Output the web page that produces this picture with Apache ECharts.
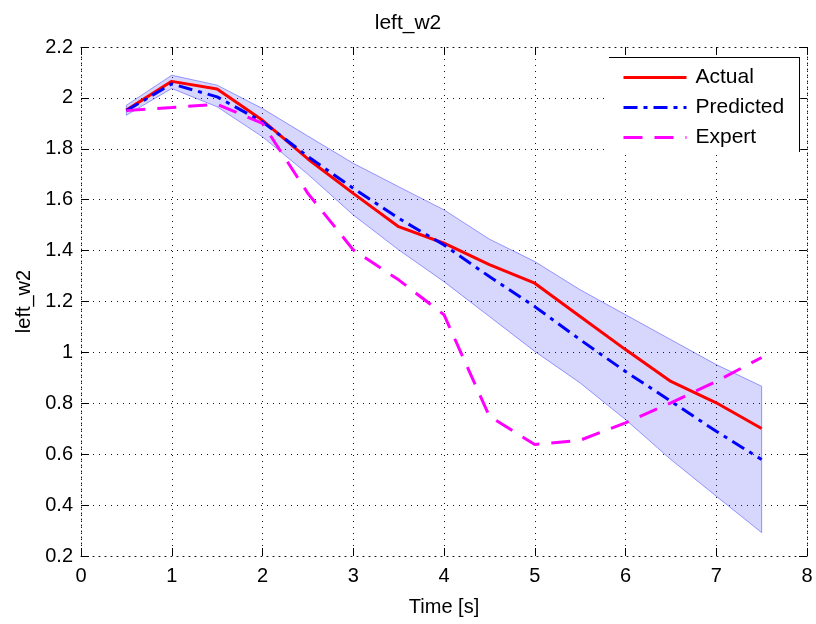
<!DOCTYPE html>
<html>
<head>
<meta charset="utf-8">
<script src="https://cdn.jsdelivr.net/npm/echarts@6/dist/echarts.min.js"></script>
<style>
html,body{margin:0;padding:0;background:#fff;}
#chart{width:816px;height:624px;}
</style>
</head>
<body>
<div id="chart"></div>
<script>
// ---- data ----
var times     = [0.5, 1, 1.5, 2, 2.5, 3, 3.5, 4, 4.5, 5, 5.5, 6, 6.5, 7, 7.5];
var actual    = [1.952, 2.065, 2.035, 1.912, 1.76, 1.625, 1.494, 1.429, 1.345, 1.272, 1.141, 1.011, 0.886, 0.802, 0.701];
var predicted = [1.95, 2.055, 2.004, 1.906, 1.77, 1.645, 1.527, 1.422, 1.298, 1.18, 1.05, 0.925, 0.808, 0.69, 0.579];
var upperBand = [1.971, 2.089, 2.05, 1.958, 1.85, 1.743, 1.651, 1.56, 1.445, 1.357, 1.246, 1.148, 1.05, 0.952, 0.867];
var lowerBand = [1.932, 2.037, 1.965, 1.847, 1.70, 1.54, 1.403, 1.278, 1.141, 1.004, 0.88, 0.736, 0.579, 0.435, 0.292];
var expert    = [1.95, 1.962, 1.975, 1.90, 1.625, 1.403, 1.285, 1.148, 0.749, 0.638, 0.655, 0.723, 0.802, 0.886, 0.98];
var xTicks = [0, 8, 1];      // min, max, interval
var yTicks = [0.2, 2.2, 0.2];

function pairs(ys){ return times.map(function(t,i){ return [t, ys[i]]; }); }

var FONT = '"Liberation Sans", Arial, Helvetica, sans-serif';
var dotted = {color:'#111', width:1, type:[1,5]};

var chart = echarts.init(document.getElementById('chart'), null, {renderer:'canvas'});
var baseX = {
  type:'value', min:xTicks[0], max:xTicks[1], interval:xTicks[2],
  axisLine:{show:true, onZero:false, lineStyle:dotted},
  axisTick:{show:true, inside:true, length:8, lineStyle:{color:'#000', width:1}},
  splitLine:{show:true, lineStyle:dotted}
};
var baseY = {
  type:'value', min:yTicks[0], max:yTicks[1], interval:yTicks[2],
  axisLine:{show:true, onZero:false, lineStyle:dotted},
  axisTick:{show:true, inside:true, length:8, lineStyle:{color:'#000', width:1}},
  splitLine:{show:true, lineStyle:dotted}
};
var option = {
  backgroundColor:'#fff',
  animation:false,
  title:{text:'left_w2', left:'center', top:8,
    textStyle:{fontFamily:FONT, fontSize:21, fontWeight:'normal', color:'#000'}},
  grid:{left:81, right:9, top:47, bottom:68},
  legend:{
    data:['Actual','Predicted','Expert'],
    orient:'vertical', left:609, top:57,
    itemWidth:63, itemHeight:14, itemGap:9,
    itemStyle:{opacity:0},
    lineStyle:{width:3},
    backgroundColor:'#fff', padding:[10,16,7,13],
    textStyle:{fontFamily:FONT, fontSize:21, color:'#000', padding:[0,0,0,4]}
  },
  xAxis:[
    Object.assign({}, baseX, {position:'bottom',
      name:'Time [s]', nameLocation:'middle', nameGap:41,
      nameTextStyle:{fontFamily:FONT, fontSize:20, color:'#000'},
      axisLabel:{fontFamily:FONT, fontSize:20, color:'#000', margin:10}}),
    Object.assign({}, baseX, {position:'top', axisLabel:{show:false}})
  ],
  yAxis:[
    Object.assign({}, baseY, {position:'left',
      name:'left_w2', nameLocation:'middle', nameGap:47,
      nameTextStyle:{fontFamily:FONT, fontSize:20, color:'#000'},
      axisLabel:{fontFamily:FONT, fontSize:20, color:'#000', margin:8}}),
    Object.assign({}, baseY, {position:'right', axisLabel:{show:false}})
  ],
  graphic:[
    {type:'line', z:100, shape:{x1:609, y1:57.5, x2:799, y2:57.5}, style:{stroke:'#000', lineWidth:1}},
    {type:'line', z:100, shape:{x1:799.5, y1:57, x2:799.5, y2:152}, style:{stroke:'#000', lineWidth:1}}
  ],
  series:[
    {name:'band', type:'custom', silent:true, z:1,
      data:[[times[0], lowerBand[0]]],
      renderItem:function(params, api){
        var pts = [];
        for (var i=0;i<times.length;i++) pts.push(api.coord([times[i], upperBand[i]]));
        for (var j=times.length-1;j>=0;j--) pts.push(api.coord([times[j], lowerBand[j]]));
        return {type:'polygon', shape:{points:pts},
          style:{fill:'rgba(40,40,245,0.19)', stroke:'rgba(60,60,255,0.5)', lineWidth:1}};
      }
    },
    {name:'Actual', type:'line', data:pairs(actual), symbol:'none', color:'#ff0000',
      lineStyle:{width:3, color:'#ff0000'}, z:3},
    {name:'Predicted', type:'line', data:pairs(predicted), symbol:'none', color:'#0000ff',
      lineStyle:{width:3, color:'#0000ff', type:[14,6,4,6]}, z:4},
    {name:'Expert', type:'line', data:pairs(expert), symbol:'none', color:'#ff00ff',
      lineStyle:{width:3, color:'#ff00ff', type:[19,12]}, z:5}
  ]
};
chart.setOption(option);
</script>
</body>
</html>
